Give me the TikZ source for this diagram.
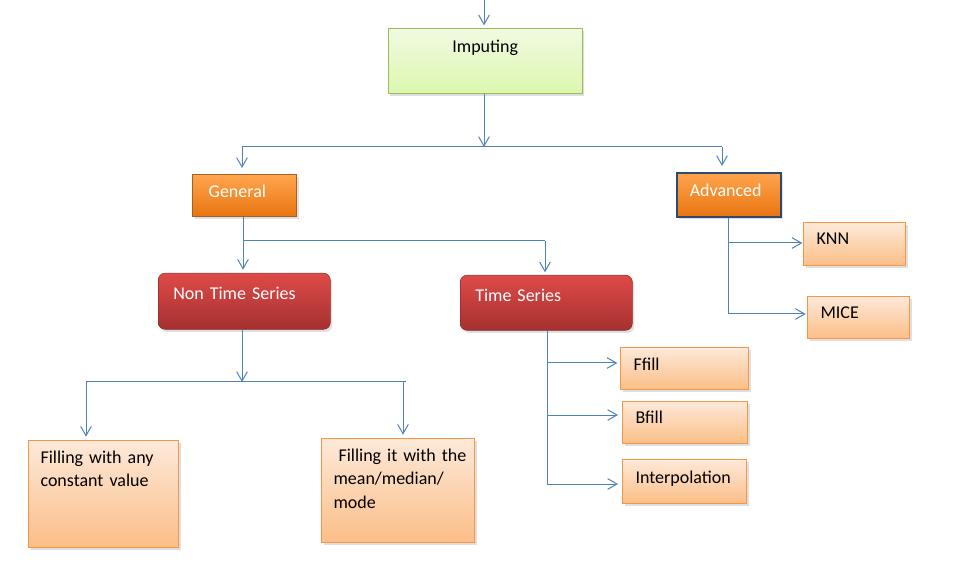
\documentclass[tikz,border=0pt]{standalone}
\usepackage{fontspec}
\setmainfont{Carlito}
\usetikzlibrary{arrows.meta,shadows}

\definecolor{linkblue}{HTML}{4F81BD}
\definecolor{greentop}{HTML}{F1FAE2}
\definecolor{greenbot}{HTML}{DCF7AE}
\definecolor{greenline}{HTML}{9BBB59}
\definecolor{orgtop}{HTML}{FFA54F}
\definecolor{orgbot}{HTML}{E8740F}
\definecolor{orgline}{HTML}{A8601E}
\definecolor{advline}{HTML}{2E4A6E}
\definecolor{redtop}{HTML}{DE4A48}
\definecolor{redbot}{HTML}{A53130}
\definecolor{redline}{HTML}{8C2B2A}
\definecolor{leaftop}{HTML}{FDE9D9}
\definecolor{leafbot}{HTML}{FBBE87}
\definecolor{leafline}{HTML}{F79646}

\begin{document}
\begin{tikzpicture}[x=0.75pt, y=-0.75pt,
    font=\fontsize{13.5pt}{17.5pt}\selectfont,
    box/.style={anchor=north west, inner ysep=0pt, align=left,
        drop shadow={opacity=0.25, shadow xshift=1.5pt, shadow yshift=-2pt}},
    root/.style={box, draw=greenline, top color=greentop, bottom color=greenbot, align=center, inner xsep=0pt},
    group/.style={box, draw=orgline, line width=1pt, top color=orgtop, bottom color=orgbot, text=white, inner xsep=12pt},
    branch/.style={box, draw=redline, rounded corners=5pt, top color=redtop, bottom color=redbot, text=white, inner xsep=11.25pt},
    leaf/.style={box, draw=leafline, line width=0.8pt, top color=leaftop, bottom color=leafbot, inner xsep=9.75pt},
    link/.style={draw=linkblue, line width=0.75pt},
    arr/.style={link, -{Straight Barb[length=7pt, width=8pt]}}]
    \useasboundingbox (0,0) rectangle (958,588);

    % boxes
    \node[root] (impute) at (388,28) [text width=145.5pt, text height=18pt, text depth=30.75pt] {Imputing};
    \node[group] (general) at (192,174) [text width=54pt, text height=17.25pt, text depth=14.25pt] {General};
    \node[group, draw=advline, line width=1.2pt, inner xsep=9.75pt] (advanced) at (676,172) [text width=58.5pt, text height=18pt, text depth=15pt] {Advanced};
    \node[branch] (nontime) at (158,273) [text width=106.5pt, text height=19.5pt, text depth=22.5pt] {Non Time Series};
    \node[branch] (timeser) at (460,275) [text width=106.5pt, text height=19.5pt, text depth=21.75pt] {Time Series};
    \node[leaf, inner xsep=9pt] (fillconst) at (28,440) [text width=94.5pt, text height=17.25pt, text depth=63pt] {Filling with any\\constant value};
    \node[leaf, inner xsep=9pt] (fillmean) at (321,438) [text width=96.75pt, text height=17.25pt, text depth=60.75pt] {\mbox{\hspace*{3.75pt}Filling it with the}\\mean/median/\\mode};
    \node[leaf] (ffill) at (620,347) [text width=76.5pt, text height=17.25pt, text depth=14.25pt] {Ffill};
    \node[leaf] (bfill) at (622,401) [text width=74.25pt, text height=16.5pt, text depth=15pt] {Bfill};
    \node[leaf] (interp) at (622,459) [text width=73.5pt, text height=18pt, text depth=15pt] {Interpolation};
    \node[leaf] (knn) at (803,222) [text width=57pt, text height=16.5pt, text depth=15.75pt] {KNN};
    \node[leaf] (mice) at (807,296) [text width=57pt, text height=16.5pt, text depth=15pt] {MICE};

    % junctions
    \coordinate (start) at (484,0);
    \coordinate (bus1) at (484,147);
    \coordinate (bus1l) at (242,147);
    \coordinate (bus1r) at (722,147);
    \coordinate (bus2) at (243,241);
    \coordinate (bus2r) at (545,241);
    \coordinate (bus3) at (242,382);
    \coordinate (bus3l) at (86,382);
    \coordinate (bus3r) at (403,382);
    \coordinate (bus3e) at (406,382);
    \coordinate (ts1) at (547,363);
    \coordinate (ts2) at (547,415);
    \coordinate (ts3) at (547,484);
    \coordinate (adv1) at (728,243);
    \coordinate (adv2) at (728,314);

    % connectors
    \draw[arr, shorten >=2pt] (start) -- (start |- impute.north);
    \draw[arr] (impute.south -| bus1) -- (bus1);
    \draw[link] (bus1l) -- (bus1r);
    \draw[arr, shorten >=4.5pt] (bus1l) -- (bus1l |- general.north);
    \draw[arr, shorten >=4.5pt] (bus1r) -- (bus1r |- advanced.north);

    \draw[link] (general.south -| bus2) -- (bus2) -- (bus2r);
    \draw[arr, shorten >=2.5pt] (bus2) -- (bus2 |- nontime.north);
    \draw[arr, shorten >=2pt] (bus2r) -- (bus2r |- timeser.north);

    \draw[arr] (nontime.south -| bus3) -- (bus3);
    \draw[link] (bus3l) -- (bus3e);
    \draw[arr, shorten >=2.5pt] (bus3l) -- (bus3l |- fillconst.north);
    \draw[arr, shorten >=2.5pt] (bus3r) -- (bus3r |- fillmean.north);

    \draw[link] (timeser.south -| ts1) -- (ts3);
    \draw[arr, shorten >=2pt] (ts1) -- (ts1 -| ffill.west);
    \draw[arr, shorten >=3pt] (ts2) -- (ts2 -| bfill.west);
    \draw[arr, shorten >=3pt] (ts3) -- (ts3 -| interp.west);

    \draw[link] (advanced.south -| adv1) -- (adv2);
    \draw[arr, shorten >=0.5pt] (adv1) -- (adv1 -| knn.west);
    \draw[arr, shorten >=1pt] (adv2) -- (adv2 -| mice.west);
\end{tikzpicture}
\end{document}
